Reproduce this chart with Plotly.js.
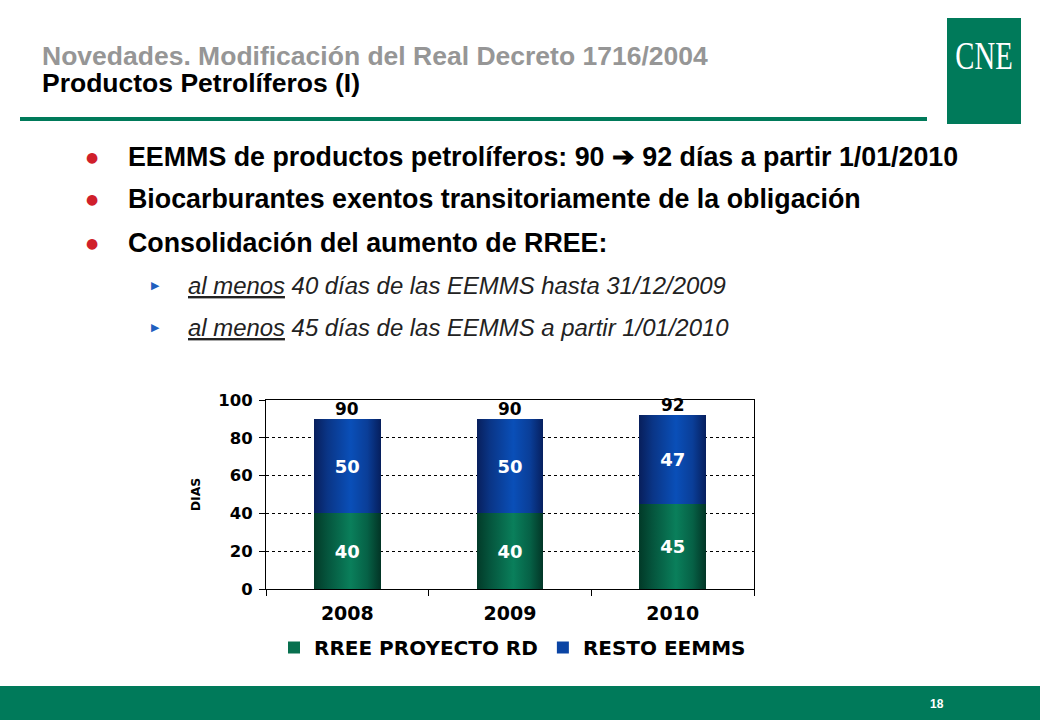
<!DOCTYPE html>
<html>
<head>
<meta charset="utf-8">
<script src="https://cdn.plot.ly/plotly-3.0.1.min.js"></script>
<style>html,body{margin:0;padding:0;background:#fff;}#chart{width:1040px;height:720px;}</style>
</head>
<body>
<div id="chart"></div>
<script>
// ---- data ----
const years = ['2008', '2009', '2010'];
const rreeProyecto = [40, 40, 45];
const restoEemms = [50, 50, 47];
const seriesNames = ['RREE PROYECTO RD', 'RESTO EEMMS'];
const yTicks = [0, 20, 40, 60, 80, 100];
const yAxisLabel = 'DIAS';
const titleLine1 = 'Novedades. Modificación del Real Decreto 1716/2004';
const titleLine2 = 'Productos Petrolíferos (I)';
const bullets = [
  'EEMMS de productos petrolíferos: 90 ➔ 92 días a partir 1/01/2010',
  'Biocarburantes exentos transitoriamente de la obligación',
  'Consolidación del aumento de RREE:'
];
const subBullets = [
  ['al menos', ' 40 días de las EEMMS hasta 31/12/2009'],
  ['al menos', ' 45 días de las EEMMS a partir 1/01/2010']
];
const pageNumber = '18';
const logoText = 'CNE';

// ---- helpers (pixel -> paper) ----
const W = 1040, H = 720;
const px = x => x / W;
const py = y => 1 - y / H;

const GREEN = '#007a5a';
const BAR_GREEN = '#08704f';
const BAR_BLUE = '#0a44a4';
const chartFont = 'DejaVu Sans, Verdana, sans-serif';
const slideFont = 'Liberation Sans, Arial, sans-serif';

const totals = years.map((_, i) => rreeProyecto[i] + restoEemms[i]);

const traces = [
  {
    type: 'bar', name: seriesNames[0], x: years, y: rreeProyecto,
    marker: {color: BAR_GREEN, line: {width: 0}},
    text: rreeProyecto.map(String), textposition: 'inside', insidetextanchor: 'middle',
    textfont: {family: chartFont, size: 18, color: '#ffffff', weight: 'bold'},
    hoverinfo: 'skip'
  },
  {
    type: 'bar', name: seriesNames[1], x: years, y: restoEemms,
    marker: {color: BAR_BLUE, line: {width: 0}},
    text: restoEemms.map(String), textposition: 'inside', insidetextanchor: 'middle',
    textfont: {family: chartFont, size: 18, color: '#ffffff', weight: 'bold'},
    hoverinfo: 'skip'
  }
];

const annotations = [];
// totals above bars (x given as category index)
years.forEach((yr, i) => {
  annotations.push({
    xref: 'x', yref: 'y', x: i, y: totals[i], text: String(totals[i]),
    showarrow: false, yanchor: 'bottom', yshift: -2,
    font: {family: chartFont, size: 17, color: '#000', weight: 'bold'}
  });
});
// titles
annotations.push({xref: 'paper', yref: 'paper', x: px(40), y: py(56), xanchor: 'left', yanchor: 'middle',
  text: '<b>' + titleLine1 + '</b>', showarrow: false, font: {family: slideFont, size: 26.5, color: '#969696'}});
annotations.push({xref: 'paper', yref: 'paper', x: px(40), y: py(83), xanchor: 'left', yanchor: 'middle',
  text: '<b>' + titleLine2 + '</b>', showarrow: false, font: {family: slideFont, size: 26.5, color: '#000'}});
// bullets
const bulletY = [157, 199, 243];
bullets.forEach((b, i) => {
  annotations.push({xref: 'paper', yref: 'paper', x: px(84), y: py(bulletY[i]), xanchor: 'left', yanchor: 'middle',
    text: '●', showarrow: false, font: {family: 'DejaVu Sans, sans-serif', size: 14, color: '#d01f2b'}});
  annotations.push({xref: 'paper', yref: 'paper', x: px(126), y: py(bulletY[i]), xanchor: 'left', yanchor: 'middle',
    text: '<b>' + b + '</b>', showarrow: false, font: {family: slideFont, size: 26.8, color: '#000'}});
});
const subY = [286, 328];
subBullets.forEach((s, i) => {
  annotations.push({xref: 'paper', yref: 'paper', x: px(149), y: py(subY[i]), xanchor: 'left', yanchor: 'middle',
    text: '▶', showarrow: false, font: {family: 'DejaVu Sans, sans-serif', size: 11, color: '#1f5fbf'}});
  annotations.push({xref: 'paper', yref: 'paper', x: px(186), y: py(subY[i]), xanchor: 'left', yanchor: 'middle',
    text: '<i><u>' + s[0] + '</u>' + s[1] + '</i>', showarrow: false, font: {family: slideFont, size: 23.9, color: '#222'}});
});
// logo text
annotations.push({xref: 'paper', yref: 'paper', x: px(984), y: py(55), xanchor: 'center', yanchor: 'middle',
  text: logoText, showarrow: false, font: {family: 'Liberation Serif, Times New Roman, serif', size: 41, color: '#fff'}});
// page number
annotations.push({xref: 'paper', yref: 'paper', x: px(937), y: py(704), xanchor: 'center', yanchor: 'middle',
  text: '<b>' + pageNumber + '</b>', showarrow: false, font: {family: slideFont, size: 12, color: '#fff'}});
const logoIndex = annotations.length - 2;

const shapes = [
  {type: 'rect', xref: 'paper', yref: 'paper', x0: px(947), x1: px(1021), y0: py(18), y1: py(124), fillcolor: GREEN, line: {width: 0}, layer: 'below'},
  {type: 'line', xref: 'paper', yref: 'paper', x0: px(20), x1: px(927), y0: py(119), y1: py(119), line: {color: GREEN, width: 4}},
  {type: 'rect', xref: 'paper', yref: 'paper', x0: 0, x1: 1, y0: 0, y1: py(686), fillcolor: GREEN, line: {width: 0}, layer: 'below'}
];

const layout = {
  width: W, height: H,
  margin: {l: 0, r: 0, t: 0, b: 0},
  paper_bgcolor: '#ffffff', plot_bgcolor: '#ffffff',
  barmode: 'stack', bargap: 0.59,
  showlegend: true,
  legend: {orientation: 'h', x: px(274), y: py(628), xanchor: 'left', yanchor: 'top',
    font: {family: chartFont, size: 20, color: '#000', weight: 'bold'}, itemwidth: 30, tracegroupgap: 0,
    traceorder: 'normal'},
  xaxis: {
    domain: [px(266), px(754)], type: 'category', range: [-0.5, 2.5],
    showline: true, linecolor: '#000', linewidth: 1, mirror: true,
    ticks: 'outside', ticklen: 6, tickcolor: '#000', tickson: 'boundaries',
    ticklabelstandoff: 7,
    tickfont: {family: chartFont, size: 19, color: '#000', weight: 'bold'},
    showgrid: false, zeroline: false, fixedrange: true
  },
  yaxis: {
    domain: [py(589), py(400)], range: [0, 100],
    tickvals: yTicks, ticktext: yTicks.map(String),
    showline: true, linecolor: '#000', linewidth: 1, mirror: true,
    ticks: 'outside', ticklen: 6, tickcolor: '#000', ticklabelstandoff: 3,
    tickfont: {family: chartFont, size: 16.5, color: '#000', weight: 'bold'},
    showgrid: true, gridcolor: '#000', gridwidth: 1, griddash: '3px,3px',
    zeroline: false, fixedrange: true,
    title: {text: yAxisLabel, standoff: 14, font: {family: chartFont, size: 12.5, color: '#000', weight: 'bold'}}
  },
  annotations: annotations,
  shapes: shapes,
  font: {family: chartFont}
};

Plotly.newPlot('chart', traces, layout, {staticPlot: true, displayModeBar: false}).then(gd => {
  const svg = gd.querySelector('svg.main-svg');
  const ns = 'http://www.w3.org/2000/svg';
  let defs = svg.querySelector('defs');
  if (!defs) { defs = document.createElementNS(ns, 'defs'); svg.insertBefore(defs, svg.firstChild); }
  function grad(id, stops) {
    const g = document.createElementNS(ns, 'linearGradient');
    g.setAttribute('id', id);
    g.setAttribute('x1', '0'); g.setAttribute('x2', '1'); g.setAttribute('y1', '0'); g.setAttribute('y2', '0');
    stops.forEach(([o, c]) => {
      const s = document.createElementNS(ns, 'stop');
      s.setAttribute('offset', o); s.setAttribute('stop-color', c);
      g.appendChild(s);
    });
    defs.appendChild(g);
  }
  grad('gGreen', [[0, '#023a28'], [0.2, '#05553d'], [0.55, '#0a7f5b'], [0.8, '#066146'], [1, '#023526']]);
  grad('gBlue', [[0, '#081f5c'], [0.2, '#0a3586'], [0.55, '#0a4fb8'], [0.8, '#0a3e98'], [1, '#061f5e']]);
  const ids = ['gGreen', 'gBlue'];
  gd.querySelectorAll('.barlayer .trace').forEach((t, i) => {
    t.querySelectorAll('path').forEach(p => { p.style.fill = 'url(#' + ids[i] + ')'; });
  });
  // condense the logo lettering
  const logo = gd.querySelector('.annotation[data-index="' + logoIndex + '"] text');
  if (logo) {
    logo.style.transformBox = 'fill-box';
    logo.style.transformOrigin = 'center';
    logo.style.transform = 'scaleX(0.7)';
  }
});
</script>
</body>
</html>
